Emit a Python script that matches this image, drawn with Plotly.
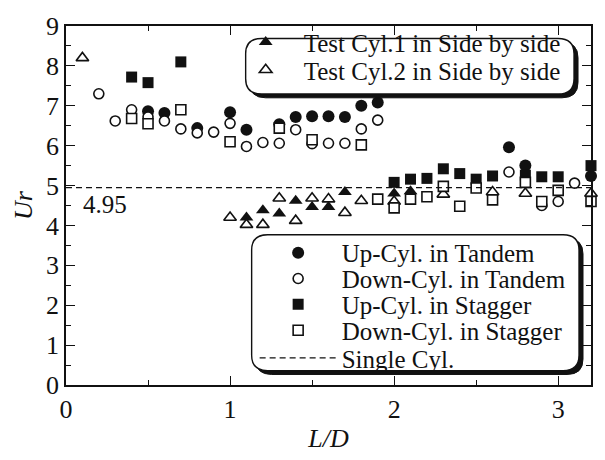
import plotly.graph_objects as go

# ---------------- data ----------------
L_TRI1 = [1.1, 1.2, 1.3, 1.4, 1.5, 1.6, 1.7, 2.0, 2.1]
UR_TRI1 = [4.20, 4.38, 4.30, 4.62, 4.46, 4.46, 4.84, 4.80, 4.86]

L_TRI2 = [0.1, 1.0, 1.1, 1.2, 1.3, 1.4, 1.5, 1.6, 1.7, 1.8, 2.0, 2.3, 2.6, 2.8, 3.2]
UR_TRI2 = [8.20, 4.20, 4.02, 4.02, 4.68, 4.12, 4.68, 4.66, 4.32, 4.62, 4.60, 4.78, 4.84, 4.80, 4.80]

L_UP_TANDEM = [0.5, 0.6, 0.8, 1.0, 1.1, 1.3, 1.4, 1.5, 1.6, 1.7, 1.8, 1.9, 2.7, 2.8, 3.2]
UR_UP_TANDEM = [6.86, 6.82, 6.44, 6.84, 6.40, 6.54, 6.72, 6.74, 6.74, 6.72, 7.00, 7.08, 5.96, 5.50, 5.24]

L_DOWN_TANDEM = [0.2, 0.3, 0.4, 0.5, 0.6, 0.7, 0.8, 0.9, 1.0, 1.1, 1.2, 1.3, 1.4, 1.5, 1.6, 1.7,
                 1.8, 1.9, 2.7, 2.9, 3.0, 3.1]
UR_DOWN_TANDEM = [7.30, 6.62, 6.90, 6.72, 6.62, 6.42, 6.32, 6.34, 6.56, 5.98, 6.08, 6.06, 6.40, 6.05,
                  6.06, 6.06, 6.42, 6.64, 5.34, 4.50, 4.60, 5.06]

L_UP_STAGGER = [0.4, 0.5, 0.7, 2.0, 2.1, 2.2, 2.3, 2.4, 2.5, 2.6, 2.8, 2.9, 3.0, 3.2]
UR_UP_STAGGER = [7.72, 7.58, 8.10, 5.08, 5.16, 5.18, 5.42, 5.30, 5.16, 5.24, 5.26, 5.22, 5.22, 5.50]

L_DOWN_STAGGER = [0.4, 0.5, 0.7, 1.0, 1.3, 1.5, 1.8, 1.9, 2.0, 2.1, 2.2, 2.3, 2.4, 2.5, 2.6, 2.8,
                  2.9, 3.0, 3.2]
UR_DOWN_STAGGER = [6.68, 6.55, 6.90, 6.10, 6.44, 6.15, 6.02, 4.66, 4.44, 4.66, 4.72, 4.98, 4.48,
                   4.94, 4.64, 5.08, 4.60, 4.88, 4.60]

SINGLE_UR = 4.95
L_RANGE = [0, 3.2]
UR_RANGE = [0, 9]

NAMES = ["Test Cyl.1 in Side by side", "Test Cyl.2 in Side by side",
         "Up-Cyl. in Tandem", "Down-Cyl. in Tandem",
         "Up-Cyl. in Stagger", "Down-Cyl. in Stagger", "Single Cyl."]

# ---------------- layout geometry ----------------
W, H = 605, 460
ML, MR, MT, MB = 66, 13, 17, 68
PW, PH = W - ML - MR, H - MT - MB
FONT = "Liberation Serif, Times New Roman, serif"
INK = "#111111"


def px(xp):
    return (xp - ML) / PW


def py(yp):
    return (H - MB - yp) / PH


fig = go.Figure()

mk_open = dict(color="white", line=dict(color=INK, width=1.6))
mk_fill = dict(color=INK, line=dict(color=INK, width=0))

series = [
    (L_TRI1, UR_TRI1, "triangle-up", 12, True, "legend"),
    (L_TRI2, UR_TRI2, "triangle-up", 11, False, "legend2"),
    (L_UP_TANDEM, UR_UP_TANDEM, "circle", 12, True, "legend3"),
    (L_DOWN_TANDEM, UR_DOWN_TANDEM, "circle", 10, False, "legend4"),
    (L_UP_STAGGER, UR_UP_STAGGER, "square", 11, True, "legend5"),
    (L_DOWN_STAGGER, UR_DOWN_STAGGER, "square", 10, False, "legend6"),
]
for i, (xs, ys, sym, sz, filled, leg) in enumerate(series):
    m = dict(symbol=sym, size=sz)
    m.update(mk_fill if filled else mk_open)
    fig.add_trace(go.Scatter(x=xs, y=ys, mode="markers", name=NAMES[i], marker=m,
                             legend=leg, cliponaxis=False))

fig.add_trace(go.Scatter(x=L_RANGE, y=[SINGLE_UR, SINGLE_UR], mode="lines", name=NAMES[6],
                         line=dict(color=INK, width=1.3, dash="6px,4px"), legend="legend7"))


# ---------------- rounded legend boxes with drop shadow ----------------
def rbox(x0, y0, x1, y1, r):
    rx, ry = r / PW, r / PH
    X0, X1 = px(x0), px(x1)
    Y0, Y1 = py(y0), py(y1)  # Y0 top (larger), Y1 bottom
    return (f"M{X0+rx},{Y0} L{X1-rx},{Y0} Q{X1},{Y0} {X1},{Y0-ry} "
            f"L{X1},{Y1+ry} Q{X1},{Y1} {X1-rx},{Y1} L{X0+rx},{Y1} "
            f"Q{X0},{Y1} {X0},{Y1+ry} L{X0},{Y0-ry} Q{X0},{Y0} {X0+rx},{Y0} Z")


shapes = []
for (x0, y0, x1, y1) in [(246, 30, 575, 88), (252, 235, 580, 377)]:
    shapes.append(dict(type="path", xref="paper", yref="paper", path=rbox(x0 + 4, y0 + 4, x1 + 4, y1 + 4, 16),
                       fillcolor=INK, line=dict(color=INK, width=1), layer="above"))
    shapes.append(dict(type="path", xref="paper", yref="paper", path=rbox(x0, y0, x1, y1, 16),
                       fillcolor="white", line=dict(color=INK, width=1.4), layer="above"))

# ---------------- one legend per entry, placed by pixel ----------------
leg_common = dict(bgcolor="rgba(0,0,0,0)", borderwidth=0, font=dict(family=FONT, size=25, color=INK),
                  xanchor="left", yanchor="middle", orientation="v")
leg_rows = [
    ("legend", 228, 34, 66),
    ("legend2", 228, 63, 66),
    ("legend3", 255, 254, 77),
    ("legend4", 255, 281, 77),
    ("legend5", 255, 308, 77),
    ("legend6", 255, 335, 77),
    ("legend7", 255, 364, 77),
]
legends = {}
for name, xl, yc, iw in leg_rows:
    d = dict(leg_common)
    d.update(x=px(xl), y=py(yc), itemwidth=iw)
    legends[name] = d

axis_common = dict(showline=True, linecolor=INK, linewidth=1.5, mirror="ticks", ticks="inside",
                   ticklen=9, tickwidth=1.3, tickcolor=INK, showgrid=False, zeroline=False,
                   tickfont=dict(family=FONT, size=26, color=INK))

fig.update_layout(
    width=W, height=H, margin=dict(l=ML, r=MR, t=MT, b=MB),
    paper_bgcolor="white", plot_bgcolor="white", showlegend=True,
    xaxis=dict(range=L_RANGE, dtick=1, tick0=0,
               minor=dict(dtick=0.5, ticks="inside", ticklen=5, tickcolor=INK, tickwidth=1.3),
               title=dict(text="<i>L/D</i>", font=dict(family=FONT, size=26, color=INK), standoff=6),
               **axis_common),
    yaxis=dict(range=UR_RANGE, dtick=1, tick0=0,
               minor=dict(dtick=0.5, ticks="inside", ticklen=5, tickcolor=INK, tickwidth=1.3),
               title=dict(text="<i>Ur</i>", font=dict(family=FONT, size=26, color=INK), standoff=6),
               **axis_common),
    shapes=shapes,
    annotations=[dict(x=0.24, y=4.53, xref="x", yref="y", text=f"{SINGLE_UR:.2f}", showarrow=False,
                      font=dict(family=FONT, size=25, color=INK))],
    **legends,
)

fig.write_html("out.html")
